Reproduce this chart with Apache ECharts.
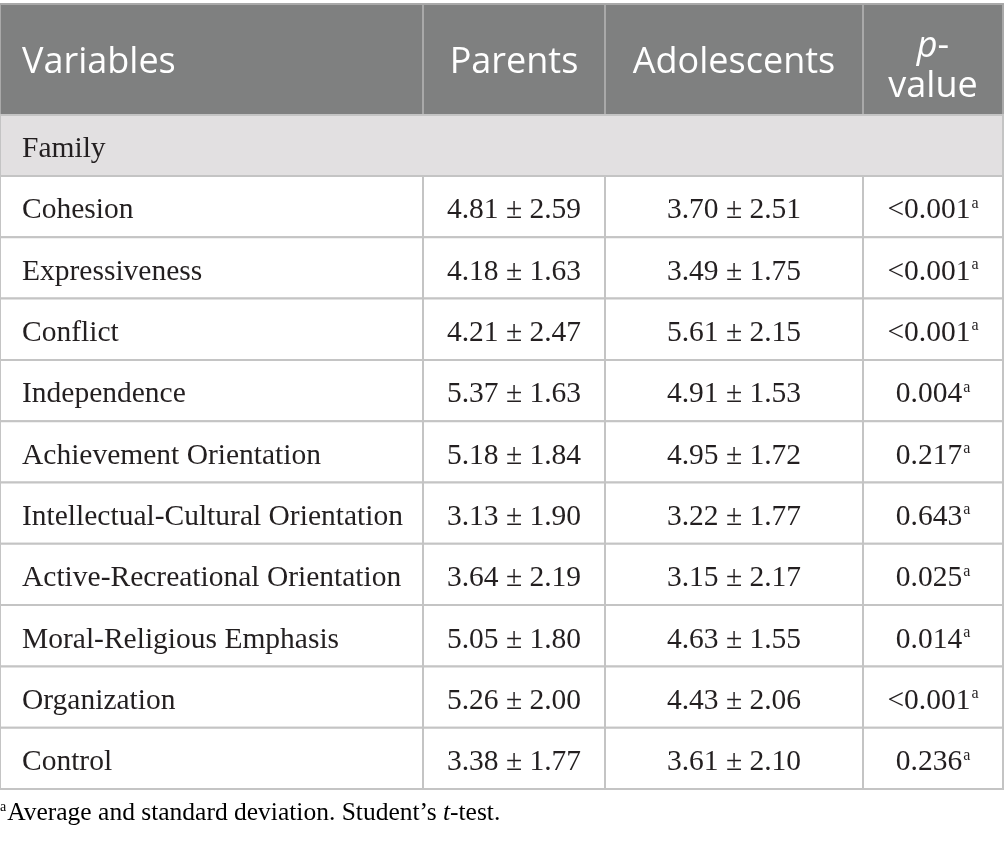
<!DOCTYPE html>
<html>
  <head>
    <meta charset="UTF-8" />
    <title>Family variables: parents vs adolescents</title>
    <style>
      html, body { margin: 0; padding: 0; background: #ffffff; }
      #table-chart { width: 1005px; height: 842px; }
    </style>
    <script type="text/javascript" src="https://cdn.jsdelivr.net/npm/echarts@6/dist/echarts.min.js"></script>
  </head>
  <body>
    <div id="table-chart"></div>
    <script>
      var headers = ["Variables", "Parents", "Adolescents", "p-value"];
      var groupLabel = "Family";
      var variables = [
        "Cohesion",
        "Expressiveness",
        "Conflict",
        "Independence",
        "Achievement Orientation",
        "Intellectual-Cultural Orientation",
        "Active-Recreational Orientation",
        "Moral-Religious Emphasis",
        "Organization",
        "Control"
      ];
      var parentsMean = [4.81, 4.18, 4.21, 5.37, 5.18, 3.13, 3.64, 5.05, 5.26, 3.38];
      var parentsSd = [2.59, 1.63, 2.47, 1.63, 1.84, 1.90, 2.19, 1.80, 2.00, 1.77];
      var adolMean = [3.70, 3.49, 5.61, 4.91, 4.95, 3.22, 3.15, 4.63, 4.43, 3.61];
      var adolSd = [2.51, 1.75, 2.15, 1.53, 1.72, 1.77, 2.17, 1.55, 2.06, 2.10];
      var pValues = ["<0.001", "<0.001", "<0.001", "0.004", "0.217", "0.643", "0.025", "0.014", "<0.001", "0.236"];
      var footnote = "Average and standard deviation. Student’s ";

      // layout of the table (axis units = pixels)
      var colEdges = [0, 423, 605, 863, 1003];
      var rowEdges = [0, 111, 172];
      for (var k = 1; k <= variables.length; k++) {
        rowEdges.push(172 + k * 61.3);
      }

      var serif = '"Liberation Serif", "DejaVu Serif", serif';
      var sans = '"Open Sans", "Noto Sans", sans-serif';

      var cells = [];
      headers.forEach(function (h, c) {
        var txt = h;
        var twoLine = false;
        if (h === "p-value") {
          txt = "{i|p}{n|-}\n{n|value}";
          twoLine = true;
        }
        cells.push({ c0: c, c1: c + 1, r: 0, text: txt, kind: "head", left: c === 0, twoLine: twoLine });
      });
      cells.push({ c0: 0, c1: 4, r: 1, text: groupLabel, kind: "group", left: true });
      variables.forEach(function (v, i) {
        var r = i + 2;
        cells.push({ c0: 0, c1: 1, r: r, text: v, kind: "body", left: true });
        cells.push({ c0: 1, c1: 2, r: r, text: parentsMean[i].toFixed(2) + " ± " + parentsSd[i].toFixed(2), kind: "body" });
        cells.push({ c0: 2, c1: 3, r: r, text: adolMean[i].toFixed(2) + " ± " + adolSd[i].toFixed(2), kind: "body" });
        cells.push({ c0: 3, c1: 4, r: r, text: pValues[i] + "{sup|a}", kind: "body" });
      });

      function renderCell(params, api) {
        var cell = cells[params.dataIndex];
        var p0 = api.coord([colEdges[cell.c0], rowEdges[cell.r]]);
        var p1 = api.coord([colEdges[cell.c1], rowEdges[cell.r + 1]]);
        var w = p1[0] - p0[0];
        var h = p1[1] - p0[1];
        var fill = "#ffffff";
        var stroke = "#c4c4c4";
        var color = "#231f20";
        var font = "29.5px " + serif;
        var dy = 4;
        if (cell.kind === "head") {
          fill = "#7f8080";
          stroke = "#a9a9a9";
          color = "#ffffff";
          font = "36px " + sans;
          dy = cell.twoLine ? 7 : 3;
        } else if (cell.kind === "group") {
          fill = "#e2e0e1";
        }
        return {
          type: "group",
          children: [
            {
              type: "rect",
              shape: { x: p0[0], y: p0[1], width: w, height: h },
              style: { fill: fill, stroke: stroke, lineWidth: 2 }
            },
            {
              type: "text",
              style: {
                text: cell.text,
                x: cell.left ? p0[0] + 22 : p0[0] + w / 2,
                y: p0[1] + h / 2 + dy,
                align: cell.left ? "left" : "center",
                verticalAlign: "middle",
                font: font,
                fill: color,
                rich: {
                  i: { fontFamily: sans, fontStyle: "italic", fontSize: 36, color: "#ffffff", lineHeight: 40 },
                  n: { fontFamily: sans, fontSize: 36, color: "#ffffff", lineHeight: 40 },
                  sup: { fontFamily: serif, fontSize: 16, color: color, padding: [0, 0, 14, 1] }
                }
              }
            }
          ]
        };
      }

      var myChart = echarts.init(document.getElementById("table-chart"));

      var option = {
        animation: false,
        grid: { left: 0, top: 4, width: 1003, height: 785 },
        xAxis: { type: "value", min: 0, max: 1003, show: false },
        yAxis: { type: "value", min: 0, max: 785, inverse: true, show: false },
        series: [
          {
            type: "custom",
            renderItem: renderCell,
            clip: false,
            silent: true,
            data: cells.map(function (c, i) { return [i]; })
          }
        ],
        graphic: [
          {
            type: "text",
            left: 0,
            top: 800,
            style: {
              text: "{sup|a}{n|" + footnote + "}{i|t}{n|-test.}",
              rich: {
                sup: { fontFamily: serif, fontSize: 14, color: "#231f20", padding: [0, 1, 12, 0] },
                n: { fontFamily: serif, fontSize: 25.5, color: "#231f20" },
                i: { fontFamily: serif, fontSize: 25.5, fontStyle: "italic", color: "#231f20" }
              }
            }
          }
        ]
      };

      myChart.setOption(option);
    </script>
  </body>
</html>
